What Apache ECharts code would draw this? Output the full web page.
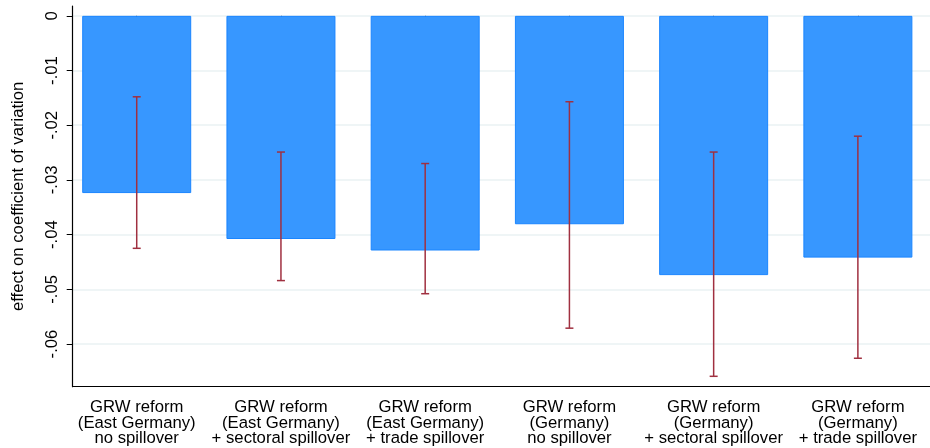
<!DOCTYPE html>
<html>
<head>
    <meta charset="utf-8">
    <title>GRW reform effects</title>
    <script src="https://cdn.jsdelivr.net/npm/echarts@6/dist/echarts.min.js"></script>
    <style>
        html, body { margin: 0; padding: 0; background: #ffffff; }
        #chart { width: 930px; height: 448px; }
    </style>
</head>
<body>
    <div id="chart"></div>
    <script>
        // categories
        var categories = [
            'GRW reform\n(East Germany)\nno spillover',
            'GRW reform\n(East Germany)\n+ sectoral spillover',
            'GRW reform\n(East Germany)\n+ trade spillover',
            'GRW reform\n(Germany)\nno spillover',
            'GRW reform\n(Germany)\n+ sectoral spillover',
            'GRW reform\n(Germany)\n+ trade spillover'
        ];
        // point estimates
        var effects = [-0.0324, -0.0408, -0.0429, -0.0381, -0.0474, -0.0442];
        // confidence interval bounds
        var ciLow = [-0.0425, -0.0484, -0.0508, -0.0571, -0.0659, -0.0626];
        var ciHigh = [-0.0148, -0.0249, -0.0270, -0.0157, -0.0249, -0.0220];
        // y tick values
        var yTicks = [0, -0.01, -0.02, -0.03, -0.04, -0.05, -0.06];

        var yMin = -0.0678, yMax = 0.0018;
        var font = "'Liberation Sans', Arial, sans-serif";
        var fs = 16.7;

        var errData = [];
        for (var i = 0; i < categories.length; i++) {
            errData.push([i, ciLow[i], ciHigh[i]]);
        }

        // Stata style: "-.01"
        function fmtTick(v) {
            var r = Math.round(v * 100) / 100;
            if (r === 0) return '0';
            return (r < 0 ? '-' : '') + String(Math.abs(r)).replace(/^0/, '');
        }

        var chart = echarts.init(document.getElementById('chart'));
        var option = {
            animation: false,
            backgroundColor: '#ffffff',
            grid: [
                // bars (band wider than the frame, as in the Stata output)
                { left: 64.6, top: 6, width: 877.2, bottom: 61.3, containLabel: false },
                // axis frame
                { left: 72.7, top: 6, right: 0, bottom: 61.3, containLabel: false }
            ],
            xAxis: [
                {
                    type: 'category',
                    gridIndex: 0,
                    data: categories,
                    axisLine: { show: false },
                    axisTick: { show: true, alignWithLabel: true, length: 6, lineStyle: { color: '#000', width: 1 } },
                    axisLabel: {
                        interval: 0, margin: 13, color: '#000',
                        fontFamily: font, fontSize: fs, lineHeight: 15.5
                    },
                    splitLine: { show: false }
                },
                {
                    type: 'value',
                    gridIndex: 1,
                    min: 0, max: 1,
                    axisLine: { show: true, onZero: false, lineStyle: { color: '#000', width: 1.2 } },
                    axisTick: { show: false },
                    axisLabel: { show: false },
                    splitLine: { show: false }
                }
            ],
            yAxis: [
                {
                    type: 'value',
                    gridIndex: 0,
                    min: yMin, max: yMax,
                    show: false
                },
                {
                    type: 'value',
                    gridIndex: 1,
                    min: yMin, max: yMax,
                    name: 'effect on coefficient of variation',
                    nameLocation: 'middle',
                    nameRotate: 90,
                    nameGap: 46,
                    nameTextStyle: { color: '#000', fontFamily: font, fontSize: fs },
                    axisLine: { show: true, onZero: false, lineStyle: { color: '#000', width: 1.2 } },
                    axisTick: { show: true, length: 6, customValues: yTicks, lineStyle: { color: '#000', width: 1 } },
                    axisLabel: {
                        rotate: 90, margin: 12, color: '#000',
                        fontFamily: font, fontSize: fs,
                        customValues: yTicks,
                        formatter: fmtTick
                    },
                    splitLine: {
                        show: true,
                        lineStyle: { color: '#EAF2F3', width: 1.5 }
                    }
                }
            ],
            series: [
                {
                    type: 'bar',
                    xAxisIndex: 0,
                    yAxisIndex: 0,
                    data: effects,
                    barWidth: 109,
                    itemStyle: { color: '#3797FF', borderColor: '#1A85FF', borderWidth: 1 }
                },
                {
                    type: 'custom',
                    xAxisIndex: 0,
                    yAxisIndex: 0,
                    data: errData,
                    z: 5,
                    renderItem: function (params, api) {
                        var x = api.value(0);
                        var lo = api.coord([x, api.value(1)]);
                        var hi = api.coord([x, api.value(2)]);
                        var half = 4;
                        var style = { stroke: '#A03040', lineWidth: 1.5 };
                        return {
                            type: 'group',
                            children: [
                                { type: 'line', shape: { x1: lo[0], y1: lo[1], x2: hi[0], y2: hi[1] }, style: style },
                                { type: 'line', shape: { x1: lo[0] - half, y1: lo[1], x2: lo[0] + half, y2: lo[1] }, style: style },
                                { type: 'line', shape: { x1: hi[0] - half, y1: hi[1], x2: hi[0] + half, y2: hi[1] }, style: style }
                            ]
                        };
                    }
                }
            ]
        };
        chart.setOption(option);
    </script>
</body>
</html>
